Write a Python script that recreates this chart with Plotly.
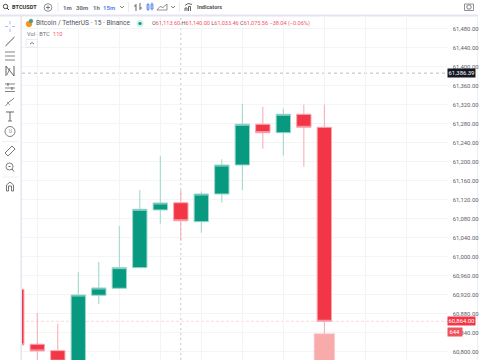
import plotly.graph_objects as go

W, H = 485, 360

# --- chart values ---
candle_index = list(range(16))
opens  = [60931.4, 60815.7, 60802.2, 60780.0, 60918.8, 60933.5, 60976.9, 61098.4,
          61113.60, 61073.7, 61132.0, 61193.0, 61278.8, 61261.0, 61299.8, 61272.4]
highs  = [60931.4, 60881.5, 60858.4, 60967.9, 60988.9, 61064.7, 61140.5, 61212.0,
          61140.00, 61137.0, 61205.0, 61321.5, 61315.8, 61311.6, 61320.0, 61320.0]
lows   = [60814.2, 60760.0, 60760.0, 60770.0, 60900.5, 60932.0, 60976.9, 61069.5,
          61033.46, 61050.6, 61113.7, 61140.5, 61227.4, 61212.7, 61189.5, 60835.2]
closes = [60814.2, 60801.5, 60780.0, 60919.4, 60934.2, 60976.9, 61099.8, 61113.1,
          61075.56, 61132.0, 61193.0, 61278.8, 61261.0, 61299.8, 61272.4, 60864.00]
volume_index = [15]
volume_values = [644]
price_ticks = [61480, 61440, 61400, 61360, 61320, 61280, 61240, 61200, 61160, 61120, 61080,
               61040, 61000, 60960, 60920, 60880, 60840, 60800]
crosshair_price = 61386.39
crosshair_candle = 8
last_price = 60864.00
grid_candles = [1, 3, 5, 7, 9, 11, 13, 15, 17, 19, 21]

GREEN, RED = "#089981", "#f23645"
GREEN_W, RED_W = "#9ad6ca", "#f9a7b0"
GRID = "#f3f4f6"
GRAY = "#5d606b"
FONT = "Roboto, Arial, sans-serif"


def px(x):
    return x / W


def py(y):
    return 1 - y / H


shapes, ann = [], []


def pl(pts, color=GRAY, width=0.9, closed=False, dash=None, layer="above"):
    d = "M" + " L".join(f"{px(x):.5f},{py(y):.5f}" for x, y in pts) + (" Z" if closed else "")
    line = dict(color=color, width=width)
    if dash:
        line["dash"] = dash
    shapes.append(dict(type="path", xref="paper", yref="paper", path=d, line=line, layer=layer))


def rect(x0, y0, x1, y1, fill="#ffffff", line=None, width=0, layer="above"):
    shapes.append(dict(type="rect", xref="paper", yref="paper", x0=px(x0), x1=px(x1), y0=py(y0), y1=py(y1),
                       fillcolor=fill, line=dict(color=line or fill, width=width), layer=layer))


def circ(cx, cy, r, fill="rgba(0,0,0,0)", line=GRAY, width=0.8):
    shapes.append(dict(type="circle", xref="paper", yref="paper", x0=px(cx - r), x1=px(cx + r),
                       y0=py(cy - r), y1=py(cy + r), fillcolor=fill, line=dict(color=line, width=width), layer="above"))


def txt(x, y, s, size=6.5, color=GRAY, anchor="left", bold=False):
    ann.append(dict(xref="paper", yref="paper", x=px(x), y=py(y), text=f"<b>{s}</b>" if bold else s,
                    showarrow=False, xanchor=anchor, yanchor="middle",
                    font=dict(size=size, color=color, family=FONT), borderpad=0))


# frame
BORDER = "#e4e5f1"
rect(0, 14.5, 478, 16.5, BORDER, layer="below")
rect(20.5, 16, 22, 360, BORDER, layer="below")
rect(477, 16, 478, 360, "#eeeff5", layer="below")

# top bar
circ(5.5, 6.5, 2.2, line="#333", width=0.9)
pl([(7, 8), (9, 10)], "#333", 1)
txt(11, 7, "BTCUSDT", 5.6, "#333", bold=True)
circ(48, 7.5, 3.8, line="#6a6d78")
pl([(46, 7.5), (50, 7.5)], "#6a6d78")
pl([(48, 5.5), (48, 9.5)], "#6a6d78")
for sx in (58, 128.5, 179.5):
    pl([(sx, 2), (sx, 12)], "#e6e7ee", 0.8)
txt(67.5, 7, "1m", 6, "#6a6d78", "center", True)
txt(81.5, 7, "30m", 6, "#6a6d78", "center", True)
txt(96, 7, "1h", 6, "#6a6d78", "center", True)
txt(109, 7, "15m", 6, "#5b82f0", "center", True)
pl([(120, 6), (122, 8), (124, 6)], "#777")
pl([(136, 4), (136, 11)], "#555")
pl([(140, 3), (140, 10)], "#555")
pl([(134, 6), (136, 6)], "#555")
pl([(140, 8), (142, 8)], "#555")
rect(147, 4.5, 149, 9.5, "#ffffff", "#4f7df0", 0.8)
rect(151, 4, 153, 9, "#ffffff", "#4f7df0", 0.8)
pl([(148, 3), (148, 11)], "#4f7df0", 0.7)
pl([(152, 2.5), (152, 10.5)], "#4f7df0", 0.7)
pl([(157, 10), (160, 6.5), (163, 7.5), (167, 4), (167, 10)], "#777", 0.8, True)
pl([(171, 6), (173, 8), (175, 6)], "#777")
pl([(185, 11), (185, 8), (187, 8), (187, 11)], "#555")
pl([(188.5, 11), (188.5, 6.5), (190.5, 6.5), (190.5, 11)], "#555")
pl([(185, 5.5), (188, 3.5), (192, 4.5)], "#555")
txt(196, 7, "Indicators", 5.6, "#555", bold=True)
circ(469, 7, 2.2)
rect(464.5, 4, 473.5, 10.5, "rgba(0,0,0,0)", "#777", 0.8)

# left toolbar
BLUE = "#a9bdf2"
pl([(10, 21), (10, 24.5)], BLUE, 1)
pl([(10, 28.5), (10, 32)], BLUE, 1)
pl([(5, 26.5), (8, 26.5)], BLUE, 1)
pl([(12, 26.5), (15, 26.5)], BLUE, 1)
pl([(5.5, 46), (14.5, 37)], "#555", 1)
for ly, a, b in [(52, 5, 15), (56, 5, 15), (60, 5, 15)]:
    pl([(a, ly), (b, ly)], "#666", 0.8)
pl([(6, 76), (6, 66), (14, 76), (14, 66)], "#555", 0.9)
pl([(10, 68), (7, 75)], "#555", 0.7)
for ly in (84, 88, 91.5):
    pl([(5, ly), (15, ly)], "#666", 0.8)
pl([(8, 83), (8, 86)], "#555", 0.9)
pl([(12, 87), (12, 90)], "#555", 0.9)
pl([(5.5, 106), (9, 102), (12, 100), (14, 98)], "#888", 1)
pl([(7, 102), (10, 105)], "#888", 0.8)
pl([(6, 112), (14, 112)], "#555", 0.9)
pl([(10, 112), (10, 121)], "#555", 0.9)
pl([(8, 121), (12, 121)], "#555", 0.8)
circ(10, 131.5, 5)
txt(10, 131.5, "U", 4.5, "#777", "center")
pl([(2, 141.5), (19, 141.5)], "#eceded", 0.8)
pl([(5, 153), (8, 156), (15, 149), (12, 146)], "#666", 0.9, True)
circ(9.5, 166.5, 3.5)
pl([(12, 169), (14, 171.5)], "#555")
pl([(8.5, 166.5), (10.5, 166.5)], "#555")
pl([(2, 177), (19, 177)], "#eceded", 0.8)
pl([(6.5, 191), (6.5, 185), (10, 182), (13.5, 185), (13.5, 191), (11.5, 191), (11.5, 186), (8.5, 186), (8.5, 191)],
   "#666", 0.9, True)

# legend
circ(29, 24, 2.8, "#f7931a", "#f7931a")
circ(31, 21, 1.8, "#3ba08d", "#3ba08d")
txt(35, 23.5, "Bitcoin / TetherUS · 15 · Binance", 6.6, "#50535e")
circ(140, 23.5, 3.5, "#d3efe9", "#d3efe9", 0)
circ(140, 23.5, 1.6, GREEN, GREEN, 0)
UP = "#f7525f"
ann.append(dict(xref="paper", yref="paper", x=px(149.5), y=py(23.7), showarrow=False, xanchor="left", yanchor="middle",
                font=dict(size=5.55, color=UP, family=FONT),
                text=(f"<span style='color:{GRAY}'>O</span>61,113.60 <span style='color:{GRAY}'>H</span>61,140.00 "
                      f"<span style='color:{GRAY}'>L</span>61,033.46 <span style='color:{GRAY}'>C</span>61,075.56 "
                      "−38.04 (−0.06%)")))
txt(26, 33.5, "Vol · BTC", 5.6, "#6a6d78")
txt(51.5, 33.5, "110", 5.6, UP)
rect(26, 39.5, 37.5, 47.5, "#ffffff", "#e6e7ee", 0.8)
pl([(30, 44), (32, 42.5), (34, 44)], "#555", 0.8)

# crosshair + last price lines (driven by data)
shapes.append(dict(type="line", xref="paper", yref="y", x0=22 / W, x1=448 / W, y0=crosshair_price, y1=crosshair_price,
                   line=dict(color="#a9abb2", width=0.8, dash="3px,3px"), layer="below"))
shapes.append(dict(type="line", xref="x", yref="paper", x0=crosshair_candle, x1=crosshair_candle, y0=0, y1=py(16),
                   line=dict(color="#c4c6cc", width=1, dash="2px,3px"), layer="below"))
shapes.append(dict(type="line", xref="paper", yref="y", x0=26 / W, x1=448 / W, y0=last_price, y1=last_price,
                   line=dict(color="#fbd3d8", width=0.9, dash="3px,2px"), layer="below"))

# price labels
def tag(price, s, bg, x1=475.0, x0=448.0, fg="#ffffff", yref="y"):
    ann.append(dict(xref="paper", yref=yref, x=px((x0 + x1) / 2), y=price, text=s, showarrow=False,
                    xanchor="center", yanchor="middle", width=x1 - x0, height=8,
                    bgcolor=bg, borderpad=0, font=dict(size=5.9, color=fg, family=FONT)))


tag(crosshair_price, "61,386.39", "#131722")
tag(last_price, "60,864.00", RED)
tag(60840.5, str(volume_values[0]), "#f0535e", x1=461.5)

fig = go.Figure()
fig.add_trace(go.Bar(x=volume_index, y=volume_values, yaxis="y2", width=1.0,
                     marker=dict(color="#f8abab", line=dict(color="#fbd0d0", width=0.6)), showlegend=False))
fig.add_trace(go.Candlestick(
    x=candle_index, open=opens, high=highs, low=lows, close=closes, whiskerwidth=0, showlegend=False,
    increasing=dict(fillcolor=GREEN, line=dict(color=GREEN_W, width=1)),
    decreasing=dict(fillcolor=RED, line=dict(color=RED_W, width=1))))

fig.update_layout(
    width=W, height=H, autosize=False, margin=dict(l=0, r=0, t=0, b=0),
    paper_bgcolor="#ffffff", plot_bgcolor="#ffffff", boxgap=0.0, showlegend=False,
    shapes=shapes, annotations=ann, font=dict(family=FONT),
    xaxis=dict(domain=[22 / W, 448 / W], range=[0.255, 21.03], tickmode="array", tickvals=grid_candles,
               showticklabels=False, ticks="", showgrid=True, gridcolor=GRID, gridwidth=1, zeroline=False,
               showline=False, rangeslider=dict(visible=False), fixedrange=True),
    yaxis=dict(domain=[0, 344 / H], range=[60782.5, 61506.7], side="right", tickmode="array", tickvals=price_ticks,
               ticktext=[f"{t:,.2f}" for t in price_ticks], tickfont=dict(size=5.9, color=GRAY, family=FONT),
               ticks="outside", ticklen=2.5, tickcolor="rgba(0,0,0,0)", showgrid=True, gridcolor=GRID, gridwidth=1,
               zeroline=False, showline=False, automargin=False, fixedrange=True),
    yaxis2=dict(overlaying="y", range=[500, 2383.5], visible=False, fixedrange=True),
)
fig.write_html("out.html", config=dict(displayModeBar=False),
               post_script="document.body.style.margin='0';document.documentElement.style.overflow='hidden';")
